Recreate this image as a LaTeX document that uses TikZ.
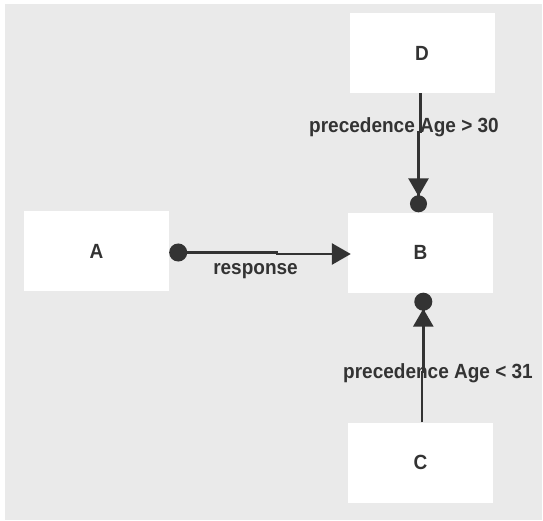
\documentclass[tikz,border=0pt]{standalone}
\usepackage{fontspec}
\setmainfont{Liberation Sans}
\usetikzlibrary{arrows.meta}
\definecolor{canvas}{HTML}{EAEAEA}
\definecolor{ink}{HTML}{333333}
% slightly taller lettering for all labels
\newcommand{\tallbf}[1]{\scalebox{1}[1.08]{#1}}
\begin{document}
\begin{tikzpicture}[x=1pt,y=-1pt,
  box/.style={fill=white, minimum width=145pt, minimum height=80pt, inner sep=0pt,
              font=\fontsize{19}{22}\selectfont\bfseries, text=ink},
  elabel/.style={font=\fontsize{19}{22}\selectfont\bfseries, text=ink, inner sep=0pt, anchor=base},
  conn/.style={draw=ink, line width=2.8pt},
]
% page and canvas
\useasboundingbox (0,0) rectangle (543,520);
\fill[white] (0,0) rectangle (543,520);
\fill[canvas] (5,4) rectangle (542,520);

% nodes
\node[box] (D) at (422,53) {\tallbf{D}};
\node[box] (A) at (96.5,251) {\tallbf{A}};
\node[box] (B) at (420.5,252.5) {\tallbf{B}};
\node[box] (C) at (420.5,462.5) {\tallbf{C}};

% connector labels (lines are drawn over them)
\node[elabel] (lresp) at (255.5,274) {\tallbf{response}};
\node[elabel] (lgt) at (404,132.5) {\tallbf{precedence Age > 30}};
\node[elabel] (llt) at (438,378) {\tallbf{precedence Age < 31}};

% A -> B : response
\coordinate (abJog) at (277,252.5);
\draw[conn, {Circle[length=18pt]}-{Triangle[length=19pt,width=21pt]}, shorten >=-3pt]
  ([yshift=-1.5pt]A.east) -- (abJog) -- ++(0,1.5) -- ([yshift=-1.5pt]B.west);

% D -> B : precedence Age > 30
\coordinate (dbJog) at (420.7,132);
\coordinate (dbLow) at (418.5,132);
\draw[conn, -{Triangle[length=18pt,width=20pt,sep=-1pt]Circle[length=17pt]}]
  (D.south -| dbJog) -- (dbJog) -- (dbLow) -- (dbLow |- B.north);

% C -> B : precedence Age < 31
\coordinate (cbJog) at (422,372);
\coordinate (cbHigh) at (423.3,372);
\draw[conn, -{Triangle[length=18pt,width=20pt,sep=-2pt]Circle[length=18pt]}]
  (C.north -| cbJog) -- (cbJog) -- (cbHigh) -- (cbHigh |- B.south);
\end{tikzpicture}
\end{document}
